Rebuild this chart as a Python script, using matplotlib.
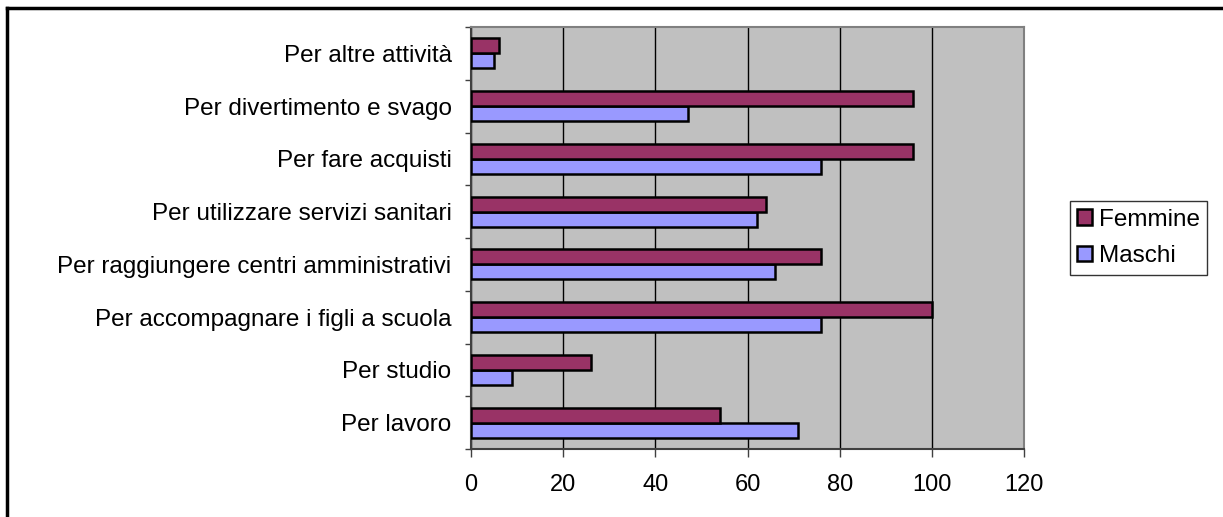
import numpy as np
import matplotlib.pyplot as plt
from matplotlib.lines import Line2D

plt.rcParams['font.family'] = ['Liberation Sans', 'DejaVu Sans']

# categories from bottom to top (Excel order)
categories = [
    "Per lavoro",
    "Per studio",
    "Per accompagnare i figli a scuola",
    "Per raggiungere centri amministrativi",
    "Per utilizzare servizi sanitari",
    "Per fare acquisti",
    "Per divertimento e svago",
    "Per altre attività",
]
maschi = [71, 9, 76, 66, 62, 76, 47, 5]
femmine = [54, 26, 100, 76, 64, 96, 96, 6]
x_ticks = [0, 20, 40, 60, 80, 100, 120]

fig = plt.figure(figsize=(12.23, 5.17), dpi=100)
ax = fig.add_axes([471 / 1223, 1 - 449 / 517, (1024 - 471) / 1223, (449 - 27) / 517])
ax.set_facecolor("#C0C0C0")

y = np.arange(len(categories))
h = 1 / 3.5
ax.barh(y - h / 2, maschi, height=h, color="#9999FF", edgecolor="black",
        linewidth=1.8, label="Maschi", zorder=3)
ax.barh(y + h / 2, femmine, height=h, color="#993366", edgecolor="black",
        linewidth=1.8, label="Femmine", zorder=3)

ax.set_xlim(0, 120)
ax.set_ylim(-0.5, len(categories) - 0.5)
ax.set_xticks(x_ticks)
ax.set_xticklabels([str(v) for v in x_ticks], fontsize=17)
ax.tick_params(axis="x", length=6, width=1, color="#404040", pad=12)

# category labels centred, tick marks on boundaries
ax.set_yticks(y)
ax.set_yticklabels(categories, fontsize=17.5)
ax.tick_params(axis="y", length=0, pad=14)
ax.set_yticks(np.arange(-0.5, len(categories)), minor=True)
ax.tick_params(axis="y", which="minor", length=4, width=1, color="#404040")

ax.grid(axis="x", color="black", linewidth=1, zorder=1)
ax.set_axisbelow(True)
for s in ["top", "right"]:
    ax.spines[s].set_color("#808080")
    ax.spines[s].set_linewidth(1.5)
for s in ["left", "bottom"]:
    ax.spines[s].set_color("#404040")
    ax.spines[s].set_linewidth(1.5)

handles, labels = ax.get_legend_handles_labels()
leg = fig.legend(handles[::-1], labels[::-1], loc="center left",
                 bbox_to_anchor=(1070 / 1223, 1 - 238 / 517), fontsize=17.5,
                 frameon=True, fancybox=False, edgecolor="black",
                 handlelength=0.6, handleheight=0.6, handletextpad=0.3,
                 borderpad=0.3, labelspacing=0.6, borderaxespad=0)
leg.get_frame().set_linewidth(1)

# outer chart frame (only left and top visible)
fig.add_artist(Line2D([7 / 1223, 7 / 1223], [0, 1 - 8 / 517], transform=fig.transFigure,
                      color="black", linewidth=2.5))
fig.add_artist(Line2D([7 / 1223, 1], [1 - 8 / 517, 1 - 8 / 517], transform=fig.transFigure,
                      color="black", linewidth=2.5))

fig.savefig("out.png", dpi=100)
